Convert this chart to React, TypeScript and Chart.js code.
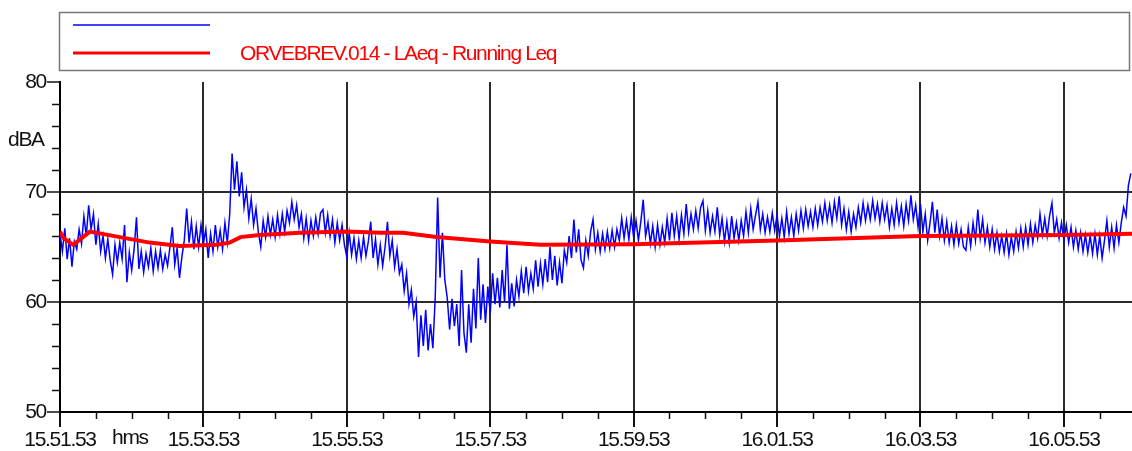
import React, { useEffect, useRef } from "react";
import { Chart, registerables } from "chart.js";

Chart.register(...registerables);

// ---- data ----
const seriesBlueLabel = "";
const seriesRedLabel = "ORVEBREV.014 - LAeq - Running Leq";
const xTickLabels = [
  "15.51.53",
  "15.53.53",
  "15.55.53",
  "15.57.53",
  "15.59.53",
  "16.01.53",
  "16.03.53",
  "16.05.53",
];
const xUnit = "hms";
const yUnit = "dBA";
const X_MAX_SEC = 897;
const BLUE_STEP_SEC = 2;

// Short-term LAeq (blue), one value every 2 s from 15.51.53
const blueValues = [
  66.2, 64.6, 66.7, 63.9, 65.8, 63.2, 65.5, 64.8, 66.6, 65.3,
  67.8, 66.0, 68.8, 66.6, 68.0, 65.2, 67.1, 64.6, 66.0, 64.0,
  65.7, 63.8, 62.5, 65.2, 63.6, 65.4, 63.9, 67.0, 61.8, 64.5,
  62.9, 64.8, 67.7, 63.0, 64.6, 62.7, 64.4, 63.2, 64.9, 62.8,
  64.6, 63.1, 64.7, 63.0, 64.3, 63.3, 65.0, 66.8, 63.4, 64.9,
  62.2, 64.1, 65.6, 68.5, 65.4, 67.3, 64.8, 66.9, 65.0, 67.0,
  65.3, 66.6, 64.0, 66.2, 64.6, 67.0, 65.0, 66.5, 64.8, 67.2,
  65.4, 68.0, 73.5, 70.2, 72.8, 69.6, 71.8, 68.6, 70.2, 67.6,
  69.4, 67.0, 68.5, 66.3, 65.0, 67.4, 65.9, 67.8, 66.1, 67.5,
  65.9, 67.9, 66.2, 68.0, 66.4, 68.3, 67.2, 69.1, 67.5, 68.8,
  66.8, 68.0, 65.8, 67.6, 65.6, 67.4, 66.0, 67.7, 66.2, 68.1,
  68.4, 66.3, 67.9, 66.0, 67.5, 65.4, 67.2, 65.6, 67.0, 65.2,
  64.1, 66.3, 64.3, 65.8, 63.9, 65.6, 64.0, 65.9, 64.2, 65.5,
  67.3, 64.0, 65.7, 63.4, 65.2, 63.3, 65.0, 67.3, 64.2, 65.6,
  63.2, 64.8, 62.6, 63.4, 61.0, 62.6, 59.8, 61.1, 58.7, 60.0,
  55.0, 58.8, 56.0, 59.3, 55.6, 58.0, 55.8, 60.5, 69.5, 62.2,
  66.3, 62.0, 60.4, 57.5, 60.3, 57.8, 59.8, 56.0, 62.9, 57.2,
  55.4, 59.8, 56.3, 61.2, 57.6, 64.0, 58.4, 61.6, 58.1, 61.4,
  59.0, 62.6, 59.8, 62.2, 59.5, 62.9, 60.0, 65.2, 59.4, 61.7,
  59.6, 62.0, 60.5, 62.8, 60.8, 63.2, 61.0, 62.6, 61.2, 63.8,
  61.4, 63.5, 61.6, 63.9, 61.8, 65.0, 62.0, 64.2, 61.5, 63.6,
  61.7, 64.7, 63.6, 66.0, 64.0, 67.5, 64.5, 66.6, 63.8, 63.1,
  65.6, 64.2, 66.4, 67.5, 64.8, 66.3, 64.6, 66.2, 64.8, 66.4,
  64.9, 66.5, 65.0, 66.6, 65.6, 67.6, 65.8, 67.4, 65.7, 67.7,
  65.9, 67.4, 65.6, 67.3, 69.3, 66.0, 67.2, 65.3, 66.9, 65.0,
  67.0, 65.2, 66.8, 65.4, 67.6, 65.6, 68.1, 66.0, 67.8, 65.7,
  67.9, 66.2, 68.9, 66.4, 68.0, 66.6, 68.3, 66.7, 68.6, 69.2,
  66.5, 68.3, 66.3, 67.8, 66.4, 68.6, 66.1, 67.6, 65.5, 67.3,
  65.4, 67.8, 65.8, 67.2, 65.6, 67.4, 66.0, 68.2, 66.3, 68.5,
  66.6, 67.9, 69.1, 66.6, 68.0, 66.3, 67.7, 66.4, 68.1, 66.5,
  67.9, 66.0, 67.6, 65.9, 68.2, 66.2, 67.7, 66.0, 68.0, 66.5,
  68.3, 66.7, 68.4, 66.9, 68.2, 66.8, 68.5, 67.0, 68.6, 67.3,
  69.0, 67.4, 68.8, 67.2, 69.1, 67.6, 69.6, 67.0, 68.5, 66.6,
  68.2, 66.4, 68.0, 66.8, 68.6, 67.2, 69.0, 67.4, 68.8, 67.5,
  69.2, 67.6, 68.9, 67.3, 69.0, 67.5, 68.8, 66.8, 68.5, 67.0,
  69.0, 67.2, 68.7, 66.9, 68.9, 67.4, 69.7, 67.5, 68.8, 66.8,
  68.9, 66.4, 68.0, 65.6, 67.2, 69.1, 66.3, 68.4, 66.0, 67.6,
  65.6, 67.3, 65.4, 66.9, 65.2, 67.0, 65.3, 66.6, 65.0, 64.7,
  66.8, 65.1, 67.2, 65.6, 68.4, 65.8, 67.5, 65.4, 66.8, 65.0,
  66.6, 64.8, 66.3, 64.6, 66.0, 64.5, 66.2, 64.3, 65.9, 64.6,
  66.4, 64.9, 66.7, 65.0, 66.8, 65.2, 67.1, 65.4, 67.0, 65.8,
  68.0, 66.1, 67.6, 66.0, 67.8, 69.0, 66.3, 67.5, 65.8, 67.2,
  65.6, 67.0, 65.4, 66.8, 65.0, 66.5, 64.8, 66.3, 64.6, 66.1,
  64.5, 66.0, 64.4, 66.2, 64.3, 66.0, 64.0, 65.6, 67.4, 65.0,
  66.8, 64.9, 67.0, 65.4, 67.2, 68.6, 67.8, 70.6, 71.7,
];

// Running Leq (red): time in seconds from start, value in dBA
const redTimes = [0, 3, 11, 25, 50, 75, 100, 131, 142, 151, 167, 201, 240, 268, 287, 315, 360, 402, 480, 600, 720, 840, 897];
const redValues = [66.4, 65.8, 65.2, 66.4, 65.9, 65.4, 65.1, 65.2, 65.4, 65.9, 66.1, 66.3, 66.4, 66.3, 66.3, 65.9, 65.5, 65.2, 65.25, 65.6, 66.0, 66.1, 66.2];

const FONT = "'Liberation Sans', Arial, sans-serif";
const SPACING = "-1.3px";

export default function App() {
  const canvasRef = useRef<HTMLCanvasElement | null>(null);

  useEffect(() => {
    document.body.style.margin = "0";
    const canvas = canvasRef.current;
    if (!canvas) return;

    const blueData = blueValues.map((v, i) => ({ x: i * BLUE_STEP_SEC, y: v }));
    const redData = redTimes.map((t, i) => ({ x: t, y: redValues[i] }));

    const extras = {
      id: "extras",
      beforeDraw(chart: any) {
        chart.ctx.letterSpacing = SPACING;
      },
      afterDraw(chart: any) {
        const ctx = chart.ctx as CanvasRenderingContext2D;
        const xs = chart.scales.x;
        const ys = chart.scales.y;
        const area = chart.chartArea;
        ctx.save();
        // minor ticks
        ctx.strokeStyle = "#111";
        ctx.lineWidth = 1.5;
        ctx.beginPath();
        for (let t = 30; t < X_MAX_SEC; t += 30) {
          if (t % 120 === 0) continue;
          const px = Math.round(xs.getPixelForValue(t)) + 0.5;
          ctx.moveTo(px, area.bottom);
          ctx.lineTo(px, area.bottom + 7);
        }
        for (let v = 52; v < 80; v += 2) {
          if (v % 10 === 0) continue;
          const py = Math.round(ys.getPixelForValue(v)) + 0.5;
          ctx.moveTo(area.left - 8, py);
          ctx.lineTo(area.left, py);
        }
        ctx.stroke();

        // axis unit labels
        ctx.fillStyle = "#111";
        ctx.font = `21px ${FONT}`;
        (ctx as any).letterSpacing = SPACING;
        ctx.textAlign = "left";
        ctx.textBaseline = "middle";
        ctx.fillText(yUnit, 8, 140);
        ctx.textBaseline = "top";
        ctx.fillText(xUnit, 112, area.bottom + 16);

        // legend box
        ctx.strokeStyle = "#777";
        ctx.lineWidth = 1.5;
        ctx.strokeRect(59.5, 12.5, 1070, 58);
        ctx.lineWidth = 1.5;
        ctx.strokeStyle = "#0000ff";
        ctx.beginPath();
        ctx.moveTo(73, 25);
        ctx.lineTo(210, 25);
        ctx.stroke();
        ctx.lineWidth = 3;
        ctx.strokeStyle = "#ff0000";
        ctx.beginPath();
        ctx.moveTo(73, 53);
        ctx.lineTo(210, 53);
        ctx.stroke();
        ctx.fillStyle = "#ff0000";
        (ctx as any).letterSpacing = "-1.35px";
        ctx.textBaseline = "middle";
        ctx.fillText(seriesRedLabel, 240, 54);
        ctx.restore();
      },
    };

    const chart = new Chart(canvas, {
      type: "line",
      data: {
        datasets: [
          {
            label: seriesRedLabel,
            data: redData,
            borderColor: "#ff0000",
            borderWidth: 4,
            pointRadius: 0,
            tension: 0,
            fill: false,
          },
          {
            label: seriesBlueLabel,
            data: blueData,
            borderColor: "#0000ff",
            borderWidth: 1.5,
            pointRadius: 0,
            tension: 0,
            fill: false,
          },
        ],
      },
      options: {
        animation: false,
        responsive: false,
        devicePixelRatio: 1,
        layout: { padding: { top: 82, left: 0, right: 0, bottom: 0 } },
        plugins: {
          legend: { display: false },
          tooltip: { enabled: false },
          title: { display: false },
        },
        scales: {
          x: {
            type: "linear",
            min: 0,
            max: X_MAX_SEC,
            afterFit: (s: any) => {
              s.height = 39;
            },
            ticks: {
              stepSize: 120,
              includeBounds: false,
              autoSkip: false,
              maxRotation: 0,
              padding: 1,
              color: "#111",
              font: { family: FONT, size: 21 },
              callback: (_v: any, idx: number) => xTickLabels[idx] ?? "",
            },
            grid: {
              color: "#2a2a2a",
              lineWidth: 2,
              tickLength: 15,
              tickColor: "#111",
              tickWidth: 2,
            },
            border: { display: true, color: "#000", width: 2 },
          },
          y: {
            type: "linear",
            min: 50,
            max: 80,
            afterFit: (s: any) => {
              s.width = 60;
            },
            ticks: {
              stepSize: 10,
              padding: 1,
              color: "#111",
              font: { family: FONT, size: 21 },
            },
            grid: {
              color: (c: any) =>
                c.tick && (c.tick.value === 80 || c.tick.value === 50) ? "rgba(0,0,0,0)" : "#2a2a2a",
              lineWidth: 2,
              tickLength: 13,
              tickColor: "#111",
              tickWidth: 1.5,
            },
            border: { display: true, color: "#000", width: 2 },
          },
        },
      },
      plugins: [extras],
    } as any);

    return () => chart.destroy();
  }, []);

  return <canvas ref={canvasRef} width={1132} height={451} style={{ display: "block" }} />;
}
